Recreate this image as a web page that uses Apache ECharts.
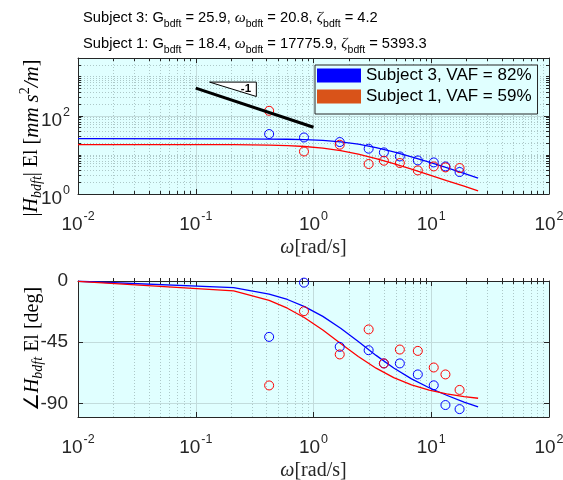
<!DOCTYPE html>
<html><head><meta charset="utf-8">
<script src="https://cdn.jsdelivr.net/npm/echarts@6/dist/echarts.min.js"></script>
<style>html,body{margin:0;padding:0;background:#fff}#c{width:563px;height:480px}</style>
</head><body><div id="c"></div>
<script>
// ---- data ----
const measFreq   = [0.42, 0.83, 1.67, 2.94, 3.96, 5.41, 7.69, 10.5, 13.2, 17.4];
const measMagS3  = [34.1, 27.9, 21.3, 14.4, 11.6, 9.13, 7.22, 6.42, 5.07, 3.65];
const measMagS1  = [134, 12.2, 18.2, 5.84, 7.09, 6.19, 4.01, 5.07, 4.78, 4.61];
const measPhS3   = [-41.1, -1.2, -48.4, -50.9, -60.6, -60.6, -68.7, -76.7, -91.2, -94.2];
const measPhS1   = [-76.8, -22.2, -54.0, -35.6, -60.6, -50.4, -51.4, -63.6, -68.7, -80.1];

const fitFreq    = [0.01, 0.21, 0.42, 0.6, 0.84, 1.2, 1.7, 2.4, 3.4, 4.8, 6.8, 9.6, 13.5, 19, 25];
const fitMagS3   = [25.9, 25.8, 25.4, 25.1, 24.5, 23.4, 21.6, 18.8, 15.3, 11.9, 8.9, 6.5, 4.7, 3.35, 2.55];
const fitMagS1   = [18.4, 18.25, 17.8, 17.3, 16.4, 14.9, 12.8, 10.4, 8.0, 6.0, 4.3, 3.1, 2.2, 1.6, 1.2];
const fitPhS3    = [-0.2, -4.8, -9.6, -13.6, -18.8, -26, -34.7, -44.5, -54.7, -64, -72, -78.5, -84, -89, -92.5];
const fitPhS1    = [-0.35, -7.3, -14.3, -20, -27, -36, -45.9, -55.5, -64.1, -71.1, -76.4, -80.3, -83, -85, -86.2];

const slopeX = [0.1, 1];
const slopeY = [510, 51];
const triX = [0.131, 0.327, 0.327];
const triY = [726, 726, 311];
const triLabel = '-1';
const triLabelPos = [0.267, 484];

const xMajorTicks = [0.01, 0.1, 1, 10, 100];
const xMinorTicks = [0.02,0.03,0.04,0.05,0.06,0.07,0.08,0.09,0.2,0.3,0.4,0.5,0.6,0.7,0.8,0.9,2,3,4,5,6,7,8,9,20,30,40,50,60,70,80,90];
const magMajorTicks = [1, 100];
const magMinorTicks = [2,3,4,5,6,7,8,9,10,20,30,40,50,60,70,80,90,200,300,400,500,600,700,800,900,1000,2000,3000];
const phaseTicks = [-90, -45, 0];

const nameS3 = 'Subject 3, VAF = 82%';
const nameS1 = 'Subject 1, VAF = 59%';
const title1 = ['Subject 3: G', 'bdft', ' = 25.9, ', 'ω', 'bdft', ' = 20.8, ', 'ζ', 'bdft', ' = 4.2'];
const title2 = ['Subject 1: G', 'bdft', ' = 18.4, ', 'ω', 'bdft', ' = 17775.9, ', 'ζ', 'bdft', ' = 5393.3'];

// ---- styling ----
const AX = '#262626';
const BG = '#E0FFFF';
const MAJ = '#c2dcdc';
const MIN = '#adc8c8';
const BLUE = '#0000FF', RED = '#FF0000';
const SANS = 'Liberation Sans';
const SERIF = 'Liberation Serif';

const G1 = {left: 78, top: 58, width: 471, height: 136};
const G2 = {left: 78, top: 281, width: 471, height: 136};

function pair(xs, ys) { return xs.map((x, i) => [x, ys[i]]); }
function fmtPow(v) { const e = Math.round(Math.log10(v)); return '{b|10}{e|' + e + '}'; }
const powRich = {
  b: {fontFamily: SANS, fontSize: 19, color: AX, verticalAlign: 'top', lineHeight: 19, padding: [5, 0, 0, 0]},
  e: {fontFamily: SANS, fontSize: 12.5, color: AX, verticalAlign: 'top', lineHeight: 13, padding: [0, 0, 0, 1]}
};
const nameRich = {
  i: {fontFamily: SERIF, fontStyle: 'italic', fontSize: 20, color: AX, verticalAlign: 'top', lineHeight: 22},
  r: {fontFamily: SERIF, fontSize: 20, color: AX, verticalAlign: 'top', lineHeight: 22}
};

function gridOpt(g, bg) {
  return Object.assign({}, g, {show: bg, backgroundColor: BG, borderWidth: 0, containLabel: false, outerBoundsMode: 'none'});
}

function xMain(gi) {
  return {type: 'log', logBase: 10, gridIndex: gi, min: 0.01, max: 100, position: 'bottom',
    axisLine: {show: true, onZero: false, lineStyle: {color: AX, width: 1}},
    axisTick: {show: true, inside: true, length: 5, customValues: xMajorTicks, lineStyle: {color: AX}},
    axisLabel: {show: true, margin: 16, customValues: xMajorTicks, formatter: fmtPow, rich: powRich},
    splitLine: {show: true, lineStyle: {color: MAJ, width: 1}},
    name: '{i|ω}{r|[rad/s]}', nameLocation: 'middle', nameGap: 44, nameTextStyle: {rich: nameRich}};
}
function xTop(gi) {
  return {type: 'log', logBase: 10, gridIndex: gi, min: 0.01, max: 100, position: 'top',
    axisLine: {show: true, onZero: false, lineStyle: {color: AX, width: 1}},
    axisTick: {show: true, inside: true, length: 5, customValues: xMajorTicks, lineStyle: {color: AX}},
    axisLabel: {show: false}, splitLine: {show: false}};
}
function xMinor(gi, pos, grid) {
  return {type: 'log', logBase: 10, gridIndex: gi, min: 0.01, max: 100, position: pos,
    axisLine: {show: false},
    axisTick: {show: true, inside: true, length: 3, customValues: xMinorTicks, lineStyle: {color: AX}},
    axisLabel: {show: false},
    splitLine: {show: grid, lineStyle: {color: MIN, width: 1, type: [1, 2]}}};
}

const scatterStyle = c => ({color: 'rgba(0,0,0,0)', borderColor: c, borderWidth: 1, opacity: 1});

const opt = {
  animation: false,
  backgroundColor: '#fff',
  grid: [gridOpt(G1, true), gridOpt(G1, false), gridOpt(G2, true), gridOpt(G2, false)],
  xAxis: [
    xMain(0), xTop(0),
    xMinor(1, 'bottom', true), xMinor(1, 'top', false),
    xMain(2), xTop(2),
    xMinor(3, 'bottom', true), xMinor(3, 'top', false)
  ],
  yAxis: [
    {type: 'log', logBase: 10, gridIndex: 0, min: 1, max: 3000, position: 'left',
      axisLine: {show: true, onZero: false, lineStyle: {color: AX}},
      axisTick: {show: true, inside: true, length: 5, customValues: magMajorTicks, lineStyle: {color: AX}},
      axisLabel: {show: true, margin: 8, customValues: magMajorTicks, formatter: fmtPow, rich: powRich},
      splitLine: {show: true, lineStyle: {color: MAJ}}},
    {type: 'log', logBase: 10, gridIndex: 0, min: 1, max: 3000, position: 'right',
      axisLine: {show: true, onZero: false, lineStyle: {color: AX}},
      axisTick: {show: true, inside: true, length: 5, customValues: magMajorTicks, lineStyle: {color: AX}},
      axisLabel: {show: false}, splitLine: {show: false}},
    {type: 'log', logBase: 10, gridIndex: 1, min: 1, max: 3000, position: 'left',
      axisLine: {show: false},
      axisTick: {show: true, inside: true, length: 3, customValues: magMinorTicks, lineStyle: {color: AX}},
      axisLabel: {show: false},
      splitLine: {show: true, lineStyle: {color: MIN, type: [1, 2]}}},
    {type: 'log', logBase: 10, gridIndex: 1, min: 1, max: 3000, position: 'right',
      axisLine: {show: false},
      axisTick: {show: true, inside: true, length: 3, customValues: magMinorTicks, lineStyle: {color: AX}},
      axisLabel: {show: false}, splitLine: {show: false}},
    {type: 'value', gridIndex: 2, min: -100, max: 0, position: 'left',
      axisLine: {show: true, onZero: false, lineStyle: {color: AX}},
      axisTick: {show: true, inside: true, length: 5, customValues: phaseTicks, lineStyle: {color: AX}},
      axisLabel: {show: true, margin: 10, customValues: phaseTicks, fontFamily: SANS, fontSize: 19, color: AX},
      splitLine: {show: true, lineStyle: {color: MAJ}}},
    {type: 'value', gridIndex: 2, min: -100, max: 0, position: 'right',
      axisLine: {show: true, onZero: false, lineStyle: {color: AX}},
      axisTick: {show: true, inside: true, length: 5, customValues: phaseTicks, lineStyle: {color: AX}},
      axisLabel: {show: false}, splitLine: {show: false}},
    {type: 'value', gridIndex: 3, min: -100, max: 0, show: false}
  ],
  legend: {
    data: [
      {name: nameS3, itemStyle: {color: BLUE, borderWidth: 0, opacity: 1}},
      {name: nameS1, itemStyle: {color: '#D95319', borderWidth: 0, opacity: 1}}
    ],
    left: 315, top: 65, orient: 'vertical', icon: 'rect', itemWidth: 44, itemHeight: 14, itemGap: 4,
    padding: [2, 6, 9, 2], backgroundColor: BG, borderColor: AX, borderWidth: 1, borderRadius: 0,
    selectedMode: false,
    textStyle: {fontFamily: SANS, fontSize: 17, color: '#000', lineHeight: 17}
  },
  series: [
    {type: 'line', xAxisIndex: 0, yAxisIndex: 0, data: pair(fitFreq, fitMagS3), symbol: 'none',
      lineStyle: {color: BLUE, width: 1.3}, z: 3},
    {type: 'line', xAxisIndex: 0, yAxisIndex: 0, data: pair(fitFreq, fitMagS1), symbol: 'none',
      lineStyle: {color: RED, width: 1.3}, z: 3},
    {type: 'scatter', name: nameS3, xAxisIndex: 0, yAxisIndex: 0, data: pair(measFreq, measMagS3), symbol: 'circle', symbolSize: 9,
      itemStyle: scatterStyle(BLUE), z: 4},
    {type: 'scatter', name: nameS1, xAxisIndex: 0, yAxisIndex: 0, data: pair(measFreq, measMagS1), symbol: 'circle', symbolSize: 9,
      itemStyle: scatterStyle(RED), z: 4},
    {type: 'line', xAxisIndex: 0, yAxisIndex: 0, data: pair(slopeX, slopeY), symbol: 'none',
      lineStyle: {color: '#000', width: 3}, z: 5},
    {type: 'custom', xAxisIndex: 0, yAxisIndex: 0, data: [[triX[0], triY[0]]], z: 5,
      renderItem: function (params, api) {
        const pts = triX.map((x, i) => api.coord([x, triY[i]]));
        const lp = api.coord(triLabelPos);
        return {type: 'group', children: [
          {type: 'polygon', shape: {points: pts}, style: {fill: '#fff', stroke: '#000', lineWidth: 1}},
          {type: 'text', x: lp[0], y: lp[1], style: {text: triLabel, fontFamily: SANS, fontWeight: 'bold', fontSize: 11.5, fill: '#000', align: 'center', verticalAlign: 'middle'}}
        ]};
      }},
    {type: 'line', xAxisIndex: 4, yAxisIndex: 4, data: pair(fitFreq, fitPhS3), symbol: 'none',
      lineStyle: {color: BLUE, width: 1.3}, z: 3},
    {type: 'line', xAxisIndex: 4, yAxisIndex: 4, data: pair(fitFreq, fitPhS1), symbol: 'none',
      lineStyle: {color: RED, width: 1.3}, z: 3},
    {type: 'scatter', name: nameS3, xAxisIndex: 4, yAxisIndex: 4, data: pair(measFreq, measPhS3), symbol: 'circle', symbolSize: 9,
      itemStyle: scatterStyle(BLUE), z: 4},
    {type: 'scatter', name: nameS1, xAxisIndex: 4, yAxisIndex: 4, data: pair(measFreq, measPhS1), symbol: 'circle', symbolSize: 9,
      itemStyle: scatterStyle(RED), z: 4}
  ],
  graphic: []
};

// titles with subscripts
const titleRich = {
  t: {fontFamily: SANS, fontSize: 14.7, color: '#000', verticalAlign: 'top', lineHeight: 16, padding: [0, 0, 0, 0]},
  g: {fontFamily: SERIF, fontStyle: 'italic', fontSize: 15.5, color: '#000', verticalAlign: 'top', lineHeight: 16, padding: [0, 0, 0, 0]},
  s: {fontFamily: SANS, fontSize: 10.5, color: '#000', verticalAlign: 'top', lineHeight: 11, padding: [9, 0, 0, 0]}
};
function titleText(parts) {
  const st = ['t', 's', 't', 'g', 's', 't', 'g', 's', 't'];
  return parts.map((p, i) => '{' + st[i] + '|' + p + '}').join('');
}
const ylabRich = {
  r: {fontFamily: SERIF, fontSize: 20, color: AX, verticalAlign: 'top', lineHeight: 20, padding: [5, 0, 0, 0]},
  i: {fontFamily: SERIF, fontStyle: 'italic', fontSize: 20, color: AX, verticalAlign: 'top', lineHeight: 20, padding: [5, 0, 0, 0]},
  ib: {fontFamily: SERIF, fontStyle: 'italic', fontSize: 21, color: AX, verticalAlign: 'top', lineHeight: 20, padding: [5, 0, 0, 0]},
  sb: {fontFamily: SERIF, fontStyle: 'italic', fontSize: 14, color: AX, verticalAlign: 'top', lineHeight: 14, padding: [13, 0, 0, 0]},
  sp: {fontFamily: SERIF, fontSize: 14, color: AX, verticalAlign: 'top', lineHeight: 14, padding: [1, 0, 0, 0]}
};
opt.graphic = [
  {type: 'text', x: 83, y: 10, style: {text: titleText(title1), rich: titleRich, align: 'left', verticalAlign: 'top'}},
  {type: 'text', x: 83, y: 36, style: {text: titleText(title2), rich: titleRich, align: 'left', verticalAlign: 'top'}},
  {type: 'text', x: 27, y: 138, rotation: Math.PI / 2,
    style: {text: '{r||}{i|H}{sb|bdft}{r||}{r| El [}{ib|mm}{r| }{ib|s}{sp|2}{ib|/m}{r|]}', rich: ylabRich, align: 'center', verticalAlign: 'middle'}},
  {type: 'text', x: 28, y: 349, rotation: Math.PI / 2,
    style: {text: '{r|∠}{i|H}{sb|bdft}{r| El [deg]}', rich: ylabRich, align: 'center', verticalAlign: 'middle'}}
];

const chart = echarts.init(document.getElementById('c'), null, {renderer: 'canvas'});
chart.setOption(opt);
</script>
</body></html>
